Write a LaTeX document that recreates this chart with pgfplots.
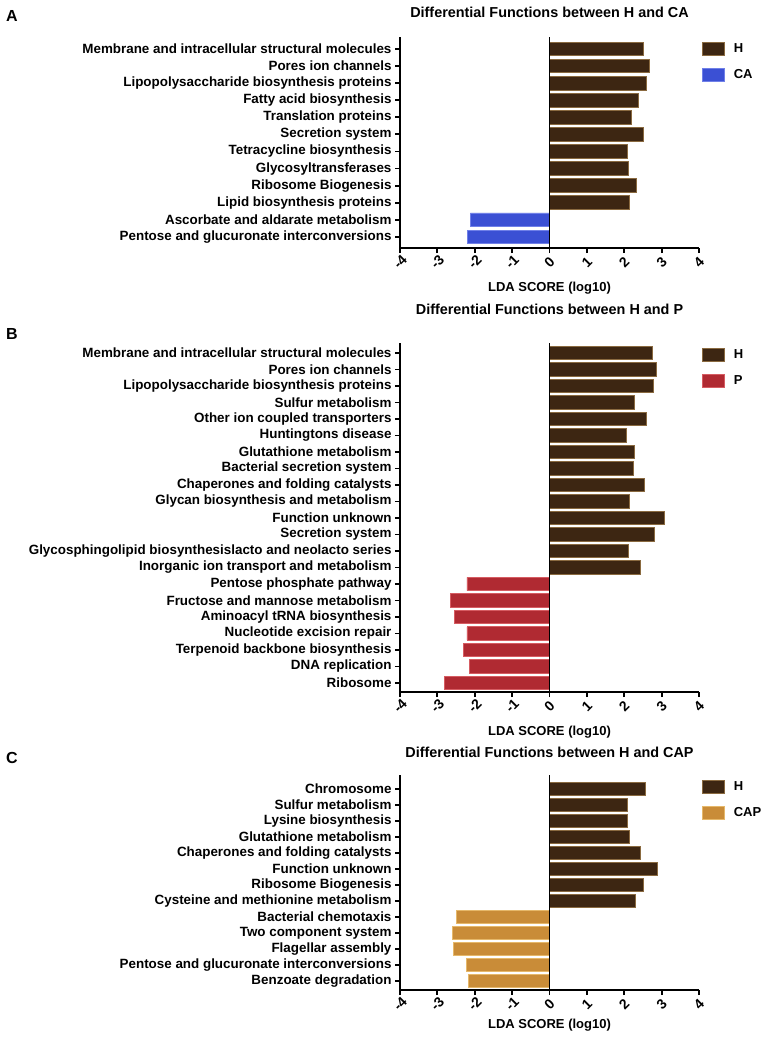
\documentclass[border=0pt]{standalone}
\usepackage{fontspec}
\setmainfont{Liberation Sans}
\usepackage{pgfplots}
\pgfplotsset{compat=1.18}
\definecolor{hbrown}{HTML}{3D2612}
\definecolor{hedge}{HTML}{8A6A40}
\definecolor{cablue}{HTML}{3B50D4}
\definecolor{caedge}{HTML}{7080E8}
\definecolor{pred}{HTML}{B02A32}
\definecolor{pedge}{HTML}{D65C62}
\definecolor{capgold}{HTML}{C98C38}
\definecolor{capedge}{HTML}{E6B86A}
\newcommand{\fl}{\bfseries\fontsize{13.4}{15}\selectfont}
\newcommand{\fx}{\bfseries\fontsize{13}{15}\selectfont}
\newcommand{\fk}{\bfseries\fontsize{14}{15}\selectfont}
\newcommand{\ft}{\bfseries\fontsize{14.4}{16}\selectfont}
\pgfplotsset{
 panel/.style={
  scale only axis, width=299pt,
  xmin=-4, xmax=4, y dir=reverse,
  axis x line*=bottom, axis y line*=left,
  axis line style={line width=1.8pt,-},
  tick style={line width=1.8pt, black},
  major tick length=5pt, tick align=outside,
  xtick={-4,-3,-2,-1,0,1,2,3,4},
  xticklabels={-4,-3,-2,-1,0,1,2,3,4},
  xticklabel style={font=\fk, yshift=-9pt, rotate=45, anchor=center},
  yticklabel style={font=\fl},
  xlabel={LDA SCORE (log10)},
  xlabel style={font=\fx, at={(0.5,0)}, anchor=center, yshift=-40pt},
  title style={font=\ft, at={(0.5,1)}, anchor=center, yshift=19pt},
  legend style={at={(1,1)}, anchor=north west, draw=none, fill=none, font=\fx,
    row sep=11pt, inner sep=0pt, outer sep=0pt, xshift=3pt, yshift=-5pt,
    /tikz/every odd column/.append style={column sep=7pt}},
  legend cell align=left,
  legend image code/.code={\draw[#1, line width=0.8pt] (0pt,-6.5pt) rectangle (22pt,6.5pt);},
  clip=false,
 },
 hbar/.style={xbar, bar shift=0pt, bar width=0.8, fill=hbrown, draw=hedge, line width=0.8pt},
 cabar/.style={xbar, bar shift=0pt, bar width=0.8, fill=cablue, draw=caedge, line width=0.8pt},
 pbar/.style={xbar, bar shift=0pt, bar width=0.8, fill=pred, draw=pedge, line width=0.8pt},
 capbar/.style={xbar, bar shift=0pt, bar width=0.8, fill=capgold, draw=capedge, line width=0.8pt},
}
\begin{document}
\begin{tikzpicture}
\path[use as bounding box] (0,0) rectangle (763pt,-1042pt);
\node[font=\bfseries\fontsize{16}{17}\selectfont] at (12pt,-16pt) {A};
\node[font=\bfseries\fontsize{16}{17}\selectfont] at (12pt,-334pt) {B};
\node[font=\bfseries\fontsize{16}{17}\selectfont] at (12pt,-758pt) {C};

% Panel A
\begin{axis}[panel, at={(400pt,-37pt)}, anchor=north west, height=211pt,
  ymin=-0.7, ymax=11.65,
  ytick={0,...,11},
  yticklabels={Membrane and intracellular structural molecules,Pores ion channels,Lipopolysaccharide biosynthesis proteins,Fatty acid biosynthesis,Translation proteins,Secretion system,Tetracycline biosynthesis,Glycosyltransferases,Ribosome Biogenesis,Lipid biosynthesis proteins,Ascorbate and aldarate metabolism,Pentose and glucuronate interconversions},
  title={Differential Functions between H and CA}]
\addplot[hbar] coordinates {(2.51,0) (2.68,1) (2.60,2) (2.39,3) (2.19,4) (2.52,5) (2.09,6) (2.10,7) (2.32,8) (2.14,9)};
\addlegendentry{H}
\addplot[cabar] coordinates {(-2.12,10) (-2.20,11)};
\addlegendentry{CA}
\draw[line width=1.8pt] (axis cs:0,-0.7) -- (axis cs:0,11.65);
\end{axis}

% Panel B
\begin{axis}[panel, at={(400pt,-343pt)}, anchor=north west, height=349pt,
  ymin=-0.6, ymax=20.55,
  ytick={0,...,20},
  yticklabels={Membrane and intracellular structural molecules,Pores ion channels,Lipopolysaccharide biosynthesis proteins,Sulfur metabolism,Other ion coupled transporters,Huntingtons disease,Glutathione metabolism,Bacterial secretion system,Chaperones and folding catalysts,Glycan biosynthesis and metabolism,Function unknown,Secretion system,Glycosphingolipid biosynthesislacto and neolacto series,Inorganic ion transport and metabolism,Pentose phosphate pathway,Fructose and mannose metabolism,Aminoacyl tRNA biosynthesis,Nucleotide excision repair,Terpenoid backbone biosynthesis,DNA replication,Ribosome},
  title={Differential Functions between H and P}, title style={yshift=9pt}]
\addplot[hbar] coordinates {(2.76,0) (2.87,1) (2.78,2) (2.26,3) (2.59,4) (2.05,5) (2.26,6) (2.24,7) (2.54,8) (2.13,9) (3.08,10) (2.81,11) (2.10,12) (2.44,13)};
\addlegendentry{H}
\addplot[pbar] coordinates {(-2.21,14) (-2.65,15) (-2.55,16) (-2.21,17) (-2.30,18) (-2.13,19) (-2.80,20)};
\addlegendentry{P}
\draw[line width=1.8pt] (axis cs:0,-0.6) -- (axis cs:0,20.55);
\end{axis}

% Panel C
\begin{axis}[panel, at={(400pt,-775pt)}, anchor=north west, height=215pt,
  ymin=-0.875, ymax=12.56,
  ytick={0,...,12},
  yticklabels={Chromosome,Sulfur metabolism,Lysine biosynthesis,Glutathione metabolism,Chaperones and folding catalysts,Function unknown,Ribosome Biogenesis,Cysteine and methionine metabolism,Bacterial chemotaxis,Two component system,Flagellar assembly,Pentose and glucuronate interconversions,Benzoate degradation},
  title={Differential Functions between H and CAP}, title style={yshift=-2pt},
  xlabel style={yshift=5pt}]
\addplot[hbar] coordinates {(2.57,0) (2.09,1) (2.09,2) (2.13,3) (2.42,4) (2.88,5) (2.52,6) (2.31,7)};
\addlegendentry{H}
\addplot[capbar] coordinates {(-2.48,8) (-2.60,9) (-2.56,10) (-2.23,11) (-2.18,12)};
\addlegendentry{CAP}
\draw[line width=1.8pt] (axis cs:0,-0.875) -- (axis cs:0,12.56);
\end{axis}
\end{tikzpicture}
\end{document}
